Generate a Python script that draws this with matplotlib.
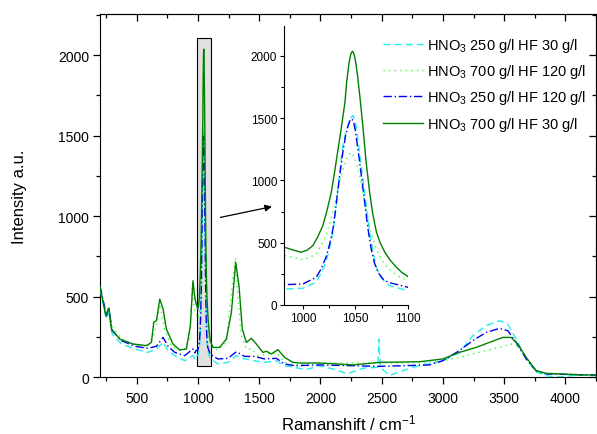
import matplotlib
matplotlib.use("Agg")
import matplotlib.pyplot as plt
from matplotlib.patches import Rectangle
from matplotlib.ticker import MultipleLocator

plt.rcParams['font.family'] = ['Liberation Sans', 'DejaVu Sans']
plt.rcParams['mathtext.fontset'] = 'custom'
plt.rcParams['mathtext.rm'] = 'Liberation Sans'
plt.rcParams['mathtext.it'] = 'Liberation Sans:italic'
plt.rcParams['mathtext.default'] = 'regular'

# ------------------------------------------------------------
# Spectra (Ramanshift in cm^-1, intensity a.u.)
labels = ['HNO$_3$ 250 g/l HF 30 g/l',
          'HNO$_3$ 700 g/l HF 120 g/l',
          'HNO$_3$ 250 g/l HF 120 g/l',
          'HNO$_3$ 700 g/l HF 30 g/l']

# HNO3 250 g/l HF 30 g/l
x_250_30 = [200, 253, 272, 299, 375, 484, 592, 661, 715, 756, 810, 892, 959, 975,
            982.5, 1000, 1012.7, 1017, 1022, 1025.5, 1028.6, 1031, 1033, 1035.5, 1038,
            1040.5, 1043, 1044.5, 1046, 1047.6, 1050, 1051.5, 1053, 1055, 1057,
            1059.5, 1062, 1064, 1066.7, 1069.5, 1073, 1077.5, 1082.5, 1100,
            1163, 1245, 1313, 1381, 1463, 1544, 1640, 1707, 1789, 1880, 1993, 2100,
            2222, 2350, 2469, 2478, 2488, 2564, 2754, 2999, 3135, 3244, 3353, 3462,
            3530, 3598, 3680, 3761, 3843, 3925, 4114, 4250]
y_250_30 = [547, 360, 402, 267, 205, 174, 153, 174, 215, 164, 133, 101, 133, 110,
            128, 134, 182, 250, 343, 460, 584, 745, 905, 1100, 1280,
            1375, 1440, 1485, 1507, 1521, 1467, 1385, 1280, 1150, 1012,
            850, 691, 560, 423, 320, 235, 190, 155, 115,
            81, 91, 133, 112, 101, 91, 101, 70, 60, 45, 70, 50,
            20, 55, 60, 236, 60, 10, 60, 101, 153, 257, 319, 350,
            329, 236, 112, 33, 8, 0, 12, 8]

# HNO3 700 g/l HF 120 g/l
x_700_120 = [200, 253, 272, 299, 375, 484, 592, 633, 661, 688, 727, 783, 851, 890,
             932, 954, 970,
             982.5, 1000, 1006, 1012.7, 1017, 1022, 1026, 1030, 1033, 1036.5, 1040,
             1043, 1046, 1049, 1051.5, 1054, 1057, 1060, 1063, 1066.7, 1070.5, 1074.6,
             1080, 1085.7, 1092, 1100,
             1163, 1232, 1273, 1305, 1327, 1354, 1395, 1436, 1490, 1571, 1640, 1707,
             1789, 1993, 2483, 2809, 2999, 3135, 3244, 3353, 3462, 3557, 3611, 3680,
             3761, 3843, 4250]
y_700_120 = [557, 391, 419, 309, 236, 199, 191, 257, 319, 450, 298, 191, 164, 174,
             236, 567, 420,
             396, 364, 380, 410, 475, 557, 670, 798, 920, 1039, 1135,
             1199, 1226, 1186, 1125, 1039, 910, 771, 640, 530, 440, 369,
             305, 262, 225, 195,
             164, 215, 526, 743, 484, 257, 174, 174, 133, 143, 153, 91,
             75, 87, 87, 87, 101, 122, 143, 164, 184, 205, 195, 122,
             39, 19, 12]

# HNO3 250 g/l HF 120 g/l
x_250_120 = [200, 253, 272, 299, 375, 484, 592, 661, 715, 756, 810, 892, 959, 975,
             982.5, 1000, 1012.7, 1017, 1022, 1025.5, 1028.6, 1031, 1033, 1035.5, 1038,
             1040.5, 1043, 1045.4, 1047, 1048.3, 1050, 1051.4, 1053.5, 1055.6, 1058,
             1060.3, 1062.5, 1065, 1068, 1071.4, 1076, 1081, 1100,
             1163, 1245, 1313, 1381, 1463, 1544, 1640, 1707, 1789, 1993, 2483, 2890,
             2999, 3135, 3244, 3353, 3462, 3530, 3598, 3680, 3761, 3843, 4250]
y_250_120 = [567, 381, 433, 288, 226, 191, 178, 191, 246, 191, 153, 133, 174, 150,
             163, 169, 222, 285, 383, 490, 610, 760, 905, 1070, 1226,
             1355, 1440, 1494, 1488, 1467, 1395, 1307, 1180, 1039, 880,
             717, 580, 450, 340, 262, 210, 182, 142,
             112, 116, 157, 128, 128, 112, 116, 81, 70, 75, 66, 75,
             101, 164, 226, 277, 302, 288, 215, 112, 39, 19, 12]

# HNO3 700 g/l HF 30 g/l
x_700_30 = [200, 247, 274, 293, 361, 470, 579, 620, 639, 661, 688, 715, 742, 796,
            851, 905, 938, 959, 975,
            982.5, 998, 1004, 1009.5, 1014, 1019, 1023, 1027, 1030, 1033, 1036.5, 1040,
            1041.5, 1044, 1045.5, 1047, 1048, 1049, 1050.5, 1052, 1054.5, 1057, 1060,
            1063.5, 1066.5, 1070, 1073.5, 1078, 1083, 1089, 1094, 1100,
            1122, 1177, 1232, 1273, 1308, 1335, 1362, 1395, 1436, 1477, 1530, 1560,
            1599, 1653, 1707, 1775, 1830, 1993, 2265, 2483, 2809, 2999, 3135, 3272,
            3380, 3489, 3557, 3611, 3680, 3761, 3843, 4114, 4250]
y_700_30 = [560, 381, 427, 298, 236, 205, 195, 215, 340, 350, 484, 422, 298, 205,
            168, 174, 319, 598, 490,
            463, 423, 440, 477, 545, 637, 760, 905, 1060, 1226, 1420, 1628,
            1780, 1949, 2012, 2037, 2030, 2003, 1935, 1842, 1650, 1440, 1160,
            905, 730, 584, 500, 423, 360, 303, 262, 228,
            184, 184, 236, 402, 712, 567, 298, 215, 240, 205, 153, 160,
            143, 170, 122, 91, 87, 87, 75, 91, 95, 112, 153, 184,
            215, 246, 246, 205, 122, 39, 23, 14, 12]

series_x = [x_250_30, x_700_120, x_250_120, x_700_30]
series_y = [y_250_30, y_700_120, y_250_120, y_700_30]
colors = ['#22EEEE', '#33FF33', '#0000EE', '#008000']
styles = [(0, (5, 3)), (0, (1, 3)), (0, (6, 2, 1, 2)), '-']

# zoomed region
zoom_x = (990, 1103)
zoom_y = (68, 2105)

# ------------------------------------------------------------
fig = plt.figure(figsize=(5.97, 4.35), dpi=100)
ax = fig.add_axes([0.1675, 0.131, 0.8308, 0.8345])

for xs, ys, c, ls, lab in zip(series_x, series_y, colors, styles, labels):
    ax.plot(xs, ys, color=c, linestyle=ls, linewidth=1.0, label=lab, zorder=3)

# grey box marking the zoomed peak
ax.add_patch(Rectangle((zoom_x[0], zoom_y[0]), zoom_x[1] - zoom_x[0], zoom_y[1] - zoom_y[0],
                       facecolor='#E0E0E0', edgecolor='black', linewidth=0.8, zorder=2))

ax.annotate('', xy=(1626, 1062), xytext=(1161, 988),
            arrowprops=dict(arrowstyle='-|>', color='black', lw=0.9,
                            mutation_scale=10))

ax.set_xlim(200, 4250)
ax.set_ylim(0, 2255)
ax.xaxis.set_major_locator(MultipleLocator(500))
ax.xaxis.set_minor_locator(MultipleLocator(250))
ax.yaxis.set_major_locator(MultipleLocator(500))
ax.yaxis.set_minor_locator(MultipleLocator(250))
ax.tick_params(which='both', direction='out', labelsize=10, width=0.9)
ax.tick_params(which='major', length=5)
ax.tick_params(which='minor', length=3)
ax.tick_params(axis='x', pad=5)
ax.tick_params(axis='y', pad=3)

# mirrored ticks on top and right pointing inward
top = ax.secondary_xaxis('top')
top.xaxis.set_major_locator(MultipleLocator(500))
top.xaxis.set_minor_locator(MultipleLocator(250))
top.tick_params(which='both', direction='in', labeltop=False, width=0.9)
top.tick_params(which='major', length=5)
top.tick_params(which='minor', length=3)
right = ax.secondary_yaxis('right')
right.yaxis.set_major_locator(MultipleLocator(500))
right.yaxis.set_minor_locator(MultipleLocator(250))
right.tick_params(which='both', direction='in', labelright=False, width=0.9)
right.tick_params(which='major', length=5)
right.tick_params(which='minor', length=3)

ax.set_xlabel('Ramanshift / cm$^{-1}$', fontsize=12)
ax.set_ylabel('Intensity a.u.', fontsize=12)
ax.xaxis.set_label_coords(0.5, -0.098)
ax.yaxis.set_label_coords(-0.148, 0.5)

ax.legend(loc='upper left', bbox_to_anchor=(0.57, 0.94), frameon=False,
          fontsize=10.5, handlelength=2.75, handletextpad=0.3, labelspacing=0.57,
          borderaxespad=0, borderpad=0)

# ------------------------------------------------------------
# inset with the main peak
ins = fig.add_axes([0.4757, 0.2966, 0.2077, 0.6413])
for xs, ys, c, ls in zip(series_x, series_y, colors, styles):
    ins.plot(xs, ys, color=c, linestyle=ls, linewidth=1.0)
ins.set_xlim(982, 1100)
ins.set_ylim(0, 2240)
ins.spines['top'].set_visible(False)
ins.spines['right'].set_visible(False)
ins.xaxis.set_major_locator(MultipleLocator(50))
ins.xaxis.set_minor_locator(MultipleLocator(25))
ins.yaxis.set_major_locator(MultipleLocator(500))
ins.yaxis.set_minor_locator(MultipleLocator(250))
ins.tick_params(which='both', direction='out', labelsize=8.5, width=0.8, pad=2)
ins.tick_params(which='major', length=3)
ins.tick_params(which='minor', length=2)
ins.patch.set_alpha(0)

fig.savefig('out.png', dpi=100)
